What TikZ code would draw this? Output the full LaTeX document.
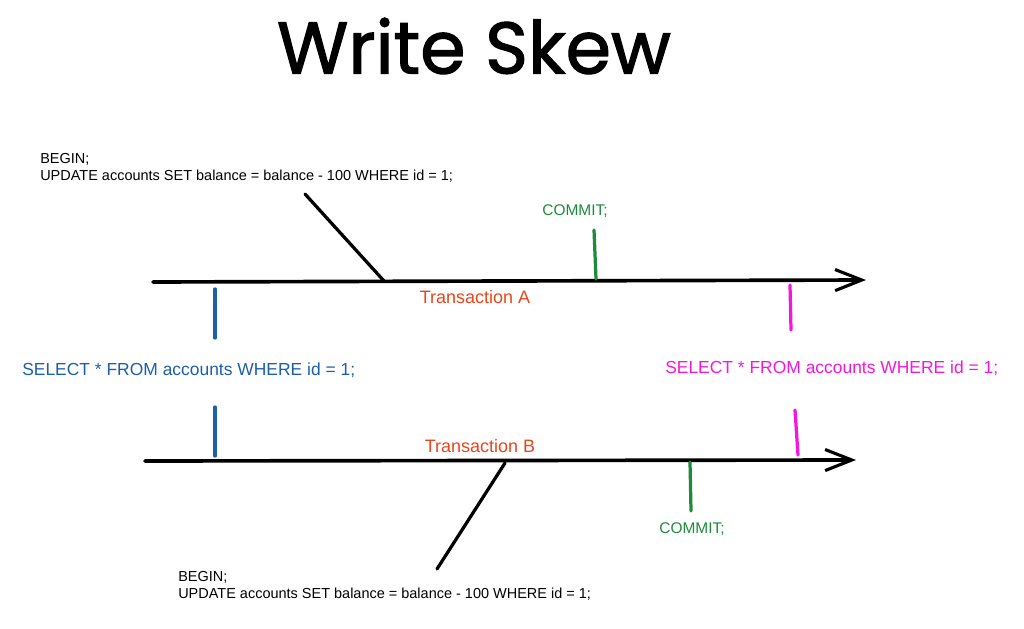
\documentclass[tikz,border=0pt]{standalone}
\usepackage{fontspec}
\setmainfont{Liberation Sans}
\newfontfamily\titlefont{Poppins}[FakeBold=1.6]
\usetikzlibrary{arrows.meta}
\definecolor{tblue}{HTML}{1C5FAA}
\definecolor{tmag}{HTML}{F018E0}
\definecolor{tgreen}{HTML}{1E8A3C}
\definecolor{tred}{HTML}{E8461C}
\tikzset{
  timeline/.style={line width=2.6pt, line cap=round, -{Straight Barb[length=19pt,width=15pt,line width=2.2pt]}},
  tick/.style={line width=2.3pt, line cap=round},
  diag/.style={line width=2.3pt, line cap=round},
  sqlA/.style={font=\fontsize{10.3}{12.2}\selectfont, align=left, inner sep=0pt, anchor=north west},
  sel/.style={font=\fontsize{12.4}{14}\selectfont, inner sep=0pt, anchor=west},
  lab/.style={font=\fontsize{12.8}{14}\selectfont, inner sep=0pt},
  commit/.style={font=\fontsize{11}{13}\selectfont, inner sep=0pt},
}
\begin{document}
\begin{tikzpicture}[x=0.025cm,y=-0.025cm]
\useasboundingbox (0,0) rectangle (1024,629);
% title
\node[font=\titlefont\fontsize{52}{58}\selectfont, inner sep=0pt] (title) at (474,46) {Write Skew};
% timelines
\coordinate (a0) at (153,282);
\coordinate (a1) at (866,280);
\coordinate (b0) at (145,461);
\coordinate (b1) at (856,460);
\draw[timeline] (a0) -- (a1);
\draw[timeline] (b0) -- (b1);
% transaction labels
\node[lab, text=tred] (ta) at (475,297) {Transaction A};
\node[lab, text=tred] (tb) at (480,446) {Transaction B};
% BEGIN texts
\node[sqlA] (beginA) at (40,153) {BEGIN;\\UPDATE accounts SET balance = balance - 100 WHERE id = 1;};
\node[sqlA] (beginB) at (178,571) {BEGIN;\\UPDATE accounts SET balance = balance - 100 WHERE id = 1;};
\coordinate (dA0) at (305,194);
\coordinate (dA1) at (384,281);
\coordinate (dB0) at (505,463);
\coordinate (dB1) at (437,569);
\draw[diag] (dA0) -- (dA1);
\draw[diag] (dB0) -- (dB1);
% commits
\node[commit, text=tgreen] (cA) at (575,211) {COMMIT;};
\node[commit, text=tgreen] (cB) at (692,529) {COMMIT;};
\coordinate (cA0) at (594,230);
\coordinate (cA1) at (596,279);
\coordinate (cB0) at (690,462);
\coordinate (cB1) at (691,511);
\draw[tick, tgreen] (cA0) -- (cA1);
\draw[tick, tgreen] (cB0) -- (cB1);
% selects
\node[sel, text=tblue] (sB) at (22,370) {SELECT * FROM accounts WHERE id = 1;};
\node[sel, text=tmag] (sM) at (665,368) {SELECT * FROM accounts WHERE id = 1;};
\coordinate (bl0) at (215,289);
\coordinate (bl1) at (215,338);
\coordinate (bl2) at (215,407);
\coordinate (bl3) at (215,456);
\draw[tick, tblue] (bl0) -- (bl1);
\draw[tick, tblue] (bl2) -- (bl3);
\coordinate (m0) at (790,285);
\coordinate (m1) at (791,330);
\coordinate (m2) at (795,410);
\coordinate (m3) at (798,455);
\draw[tick, tmag] (m0) -- (m1);
\draw[tick, tmag] (m2) -- (m3);
\end{tikzpicture}
\end{document}
